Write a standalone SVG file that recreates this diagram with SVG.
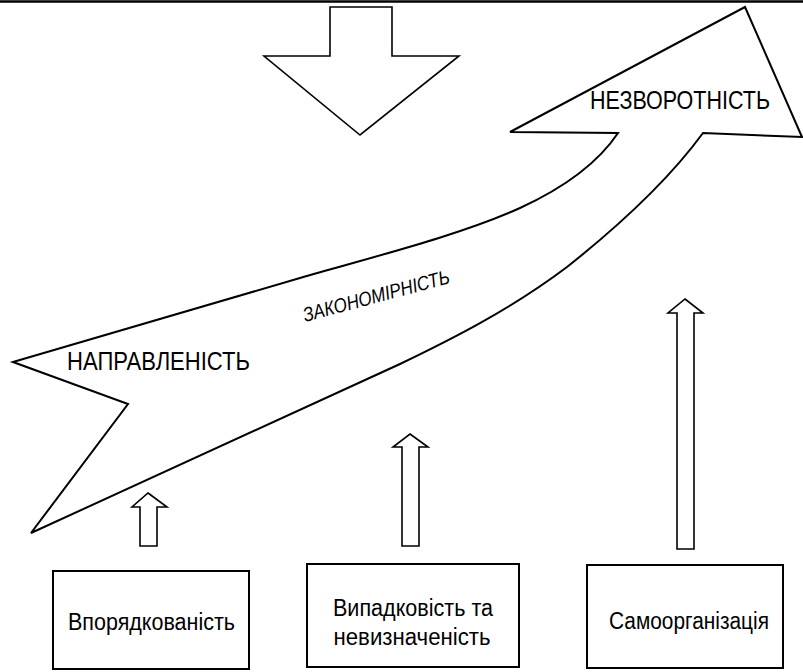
<svg xmlns="http://www.w3.org/2000/svg" width="803" height="672" viewBox="0 0 803 672">
  <style>
    .shape { fill: #ffffff; stroke: #000000; stroke-width: 2; stroke-linejoin: miter; }
    .thin { fill: #ffffff; stroke: #000000; stroke-width: 1.6; }
    .box { fill: #ffffff; stroke: #000000; stroke-width: 2; }
    .lbl { font-family: "Liberation Sans", Arial, sans-serif; fill: #000000; }
    .boxlbl { font-size: 23.5px; text-anchor: middle; }
  </style>
  <rect width="803" height="672" fill="#ffffff"/>

  <!-- top rule -->
  <line x1="0" y1="1.5" x2="803" y2="1.5" stroke="#000000" stroke-width="2.5"/>

  <!-- downward arrow -->
  <g id="down-arrow">
    <polygon class="thin" points="330,7 392,7 392,56 459,56 360,135 264,56 330,56"/>
  </g>

  <!-- large curved arrow -->
  <g id="main-arrow">
    <path class="shape" d="M13,362 L300,278 C380,255 460,235 520,208 C570,185 600,160 618,133 L510,132 L745,7 L802,137 L703,133 C670,178 620,225 567,267 C510,310 450,340 400,364 L31,533 L128,404 Z"/>
    <text class="lbl" x="590" y="109" font-size="26.5" textLength="180" lengthAdjust="spacingAndGlyphs">НЕЗВОРОТНІСТЬ</text>
    <text class="lbl" x="67" y="370" font-size="25.5" textLength="183" lengthAdjust="spacingAndGlyphs">НАПРАВЛЕНІСТЬ</text>
    <text class="lbl" font-size="20" font-style="italic" transform="translate(305,322) rotate(-15)" textLength="151" lengthAdjust="spacingAndGlyphs">ЗАКОНОМІРНІСТЬ</text>
  </g>

  <!-- small upward arrows -->
  <g id="connectors">
    <polygon class="thin" points="148,493 167,507 157,507 157,546 140,546 140,507 132,507"/>
    <polygon class="thin" points="410,434 428,447 419,447 419,546 402,546 402,447 393,447"/>
    <polygon class="thin" points="685,299 703,313 694,313 694,549 677,549 677,313 668,313"/>
  </g>

  <g id="box-order">
    <rect class="box" x="53" y="571" width="196" height="98"/>
    <text class="lbl boxlbl" x="151.5" y="629.5" textLength="167" lengthAdjust="spacingAndGlyphs">Впорядкованість</text>
  </g>

  <g id="box-chance">
    <rect class="box" x="307" y="564" width="212" height="103"/>
    <text class="lbl boxlbl" x="413" y="616" textLength="160" lengthAdjust="spacingAndGlyphs">Випадковість та</text>
    <text class="lbl boxlbl" x="412" y="645" textLength="157" lengthAdjust="spacingAndGlyphs">невизначеність</text>
  </g>

  <g id="box-selforg">
    <rect class="box" x="587" y="565" width="196" height="103"/>
    <text class="lbl boxlbl" x="689" y="629" textLength="160" lengthAdjust="spacingAndGlyphs">Самоорганізація</text>
  </g>
</svg>
